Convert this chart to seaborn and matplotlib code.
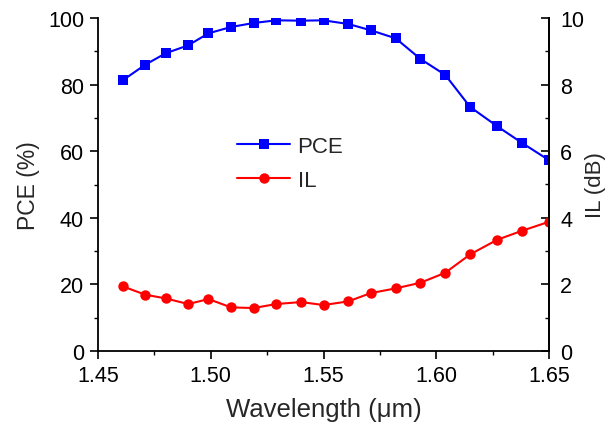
import matplotlib
matplotlib.use("Agg")
import matplotlib.pyplot as plt
import seaborn as sns
import pandas as pd
from matplotlib.ticker import MultipleLocator

wavelength = [1.461, 1.471, 1.480, 1.490, 1.499, 1.509, 1.519, 1.529, 1.540, 1.550,
              1.561, 1.571, 1.582, 1.593, 1.604, 1.615, 1.627, 1.638, 1.650]
pce = [81.3, 86.0, 89.4, 91.8, 95.4, 97.3, 98.5, 99.3, 99.2, 99.3,
       98.2, 96.3, 93.9, 87.7, 82.9, 73.3, 67.5, 62.5, 57.3]
il = [1.94, 1.69, 1.58, 1.41, 1.56, 1.31, 1.29, 1.41, 1.47, 1.38,
      1.49, 1.74, 1.88, 2.05, 2.35, 2.90, 3.34, 3.61, 3.88]

df = pd.DataFrame({"wavelength": wavelength, "PCE": pce, "IL": il})

sns.set_style("ticks")
plt.rcParams['font.family'] = ['Liberation Sans', 'DejaVu Sans']

fig = plt.figure(figsize=(6.13, 4.27), dpi=100)
ax = fig.add_axes([98/613, 1-352/427, (549-98)/613, (352-19)/427])
ax2 = ax.twinx()

sns.lineplot(data=df, x="wavelength", y="PCE", ax=ax, color="#0000FF", marker="s",
             markersize=6.5, markeredgewidth=0, linewidth=1.5, label="PCE", legend=False)
sns.lineplot(data=df, x="wavelength", y="IL", ax=ax2, color="#FF0000", marker="o",
             markersize=7.5, markeredgewidth=0, linewidth=1.5, label="IL", legend=False)

ax.set_xlim(1.45, 1.65)
ax.set_ylim(0, 100)
ax2.set_ylim(0, 10)
ax.set_xticks([1.45, 1.50, 1.55, 1.60, 1.65])
ax.set_xticklabels(["1.45", "1.50", "1.55", "1.60", "1.65"])
ax.xaxis.set_minor_locator(MultipleLocator(0.025))
ax.set_yticks([0, 20, 40, 60, 80, 100])
ax.yaxis.set_minor_locator(MultipleLocator(10))
ax2.set_yticks([0, 2, 4, 6, 8, 10])
ax2.yaxis.set_minor_locator(MultipleLocator(1))

for a in (ax, ax2):
    a.spines['top'].set_visible(False)
    for s in a.spines.values():
        s.set_linewidth(1.3)
        s.set_color("black")
ax.tick_params(which='major', direction='out', length=6, width=1.2, labelsize=15.5,
               colors='black', pad=4)
ax.tick_params(which='minor', direction='out', length=3, width=1.0, colors='black')
ax2.tick_params(which='major', direction='in', length=6, width=1.2, labelsize=15.5,
                colors='black', pad=8)
ax2.tick_params(which='minor', direction='in', length=3, width=1.0, colors='black')
ax2.spines['left'].set_visible(False)
ax2.spines['bottom'].set_visible(False)

ax.set_xlabel("Wavelength (\u03bcm)", fontsize=18.5, labelpad=8)
ax.set_ylabel("PCE (%)", fontsize=16.5, labelpad=6)
ax2.set_ylabel("IL (dB)", fontsize=16, labelpad=1)

h1 = ax.get_lines()[0]
h2 = ax2.get_lines()[0]
ax.legend([h1, h2], ["PCE", "IL"], loc="center left", bbox_to_anchor=(0.264, 0.563),
          frameon=False, fontsize=16, handlelength=2.4, handletextpad=0.32,
          labelspacing=0.58)

fig.savefig("out.png", dpi=100, facecolor="white")
